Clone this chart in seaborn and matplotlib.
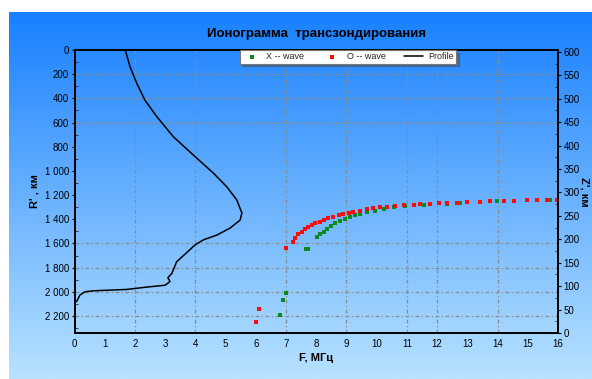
import numpy as np
import matplotlib
matplotlib.use("Agg")
import matplotlib.pyplot as plt
import seaborn as sns
import pandas as pd
from matplotlib.ticker import FuncFormatter, MultipleLocator

# ---- data ----
profile_f = [1.68, 1.84, 2.06, 2.33, 2.72, 3.27, 3.93, 4.60, 5.04, 5.37, 5.54, 5.48,
             5.15, 4.71, 4.27, 3.99, 3.72, 3.38, 3.22, 3.09, 3.16, 3.00, 2.39, 1.73,
             0.62, 0.35, 0.18, 0.07]
profile_z = [604, 568, 533, 497, 462, 419, 380, 341, 312, 284, 256, 241,
             224, 209, 199, 188, 172, 152, 127, 118, 110, 102, 98, 93,
             90, 88, 81, 67]

o_f = [6.00, 6.11, 7.00, 7.22, 7.30, 7.41, 7.52, 7.63, 7.74, 7.85, 7.96, 8.11, 8.24,
       8.40, 8.57, 8.74, 8.90, 9.07, 9.23, 9.45, 9.68, 9.89, 10.12, 10.34, 10.61,
       10.89, 11.22, 11.44, 11.77, 12.05, 12.32, 12.66, 12.99, 13.43, 13.76, 14.20,
       14.53, 14.97, 15.30, 15.64, 15.97]
o_r = [2247, 2142, 1635, 1585, 1557, 1524, 1503, 1480, 1461, 1445, 1433, 1420, 1406,
       1392, 1379, 1367, 1356, 1345, 1337, 1329, 1317, 1309, 1301, 1296, 1290,
       1284, 1279, 1276, 1271, 1268, 1265, 1263, 1257, 1255, 1251, 1249,
       1246, 1243, 1243, 1241, 1238]

x_f = [6.80, 6.91, 6.99, 7.66, 7.72, 8.02, 8.13, 8.24, 8.35, 8.48, 8.63, 8.79, 8.96,
       9.12, 9.29, 9.45, 9.68, 9.95, 10.23, 10.56, 10.94, 11.55, 12.32, 12.76,
       13.98, 15.74]
x_r = [2192, 2068, 2013, 1646, 1646, 1549, 1524, 1503, 1480, 1456, 1433, 1414, 1398,
       1379, 1365, 1356, 1342, 1329, 1315, 1301, 1290, 1282, 1276, 1268,
       1249, 1241]

x_ticks = list(range(0, 17))
r_ticks = list(range(0, 2201, 200))
z_ticks = list(range(0, 601, 50))
grid_f = [2, 4, 7, 9, 11, 12, 14]
grid_r = [200, 400, 600, 1600, 1800, 2000, 2200]

title = "Ионограмма  трансзондирования"

# ---- figure ----
W, H = 592, 379
fig = plt.figure(figsize=(W / 100, H / 100), dpi=100)
sns.set_style("white")
plt.rcParams['font.family'] = ['Liberation Sans', 'DejaVu Sans']

# gradient background
bg = fig.add_axes([9 / W, 0, 1 - 9 / W, 1 - 12 / H], zorder=-10)
top = np.array([24, 128, 255]) / 255
bot = np.array([184, 226, 255]) / 255
t = np.linspace(0, 1, 256)[:, None]
grad = (top[None, :] * (1 - t) + bot[None, :] * t)[:, None, :]
bg.imshow(grad, aspect='auto', extent=[0, 1, 0, 1])
bg.set_axis_off()

ax = fig.add_axes([74.5 / W, 1 - 333 / H, (558 - 74.5) / W, (333 - 50) / H])
ax.patch.set_alpha(0)
ax2 = ax.twinx()
ax2.patch.set_alpha(0)

ax.set_xlim(0, 16)
ax.set_ylim(2341, 0)
ax2.set_ylim(0, 604)

for g in grid_f:
    ax.axvline(g, color='#8a8a8a', lw=0.9, ls=(0, (3, 2, 1, 2)), zorder=1)
for g in grid_r:
    ax.axhline(g, color='#8a8a8a', lw=0.9, ls=(0, (3, 2, 1, 2)), zorder=1)

dfx = pd.DataFrame({"F": x_f, "R": x_r})
dfo = pd.DataFrame({"F": o_f, "R": o_r})
dfp = pd.DataFrame({"F": profile_f, "Z": profile_z})

sns.scatterplot(data=dfx, x="F", y="R", ax=ax, color='#0a8a1a', marker='s', s=7,
                linewidth=0, label="X -- wave", zorder=4, legend=False)
sns.scatterplot(data=dfo, x="F", y="R", ax=ax, color='#ff0a0a', marker='s', s=9,
                linewidth=0, label="O -- wave", zorder=5, legend=False)
sns.lineplot(data=dfp, x="F", y="Z", ax=ax2, color='black', lw=1.1, sort=False,
             label="Profile", legend=False, zorder=3)

ax.set_xticks(x_ticks)
ax.set_yticks(r_ticks)
ax2.set_yticks(z_ticks)
ax.yaxis.set_major_formatter(FuncFormatter(lambda v, p: f"{int(v):,}".replace(",", " ")))
ax.xaxis.set_minor_locator(MultipleLocator(0.5))
ax.yaxis.set_minor_locator(MultipleLocator(100))
ax2.yaxis.set_minor_locator(MultipleLocator(25))

for a in (ax, ax2):
    a.tick_params(axis='both', which='major', labelsize=7, length=2.5, width=0.8,
                  direction='out', pad=1.5, colors='black')
    a.tick_params(axis='both', which='minor', length=2, width=0.6, direction='in')
    for s in a.spines.values():
        s.set_color('black')
        s.set_linewidth(1.4)
        s.set_visible(True)

ax.set_xlabel("F, МГц", fontsize=8, fontweight='bold', labelpad=3, color='black')
ax.set_ylabel("R' , км", fontsize=8, fontweight='bold', labelpad=4, color='black')
ax2.set_ylabel("Z', км", fontsize=8, fontweight='bold', rotation=270, labelpad=4,
               color='black')
ax2.yaxis.set_label_coords(1.065, 0.5)
ax.set_title(title, fontsize=9.5, fontweight='bold', pad=9, color='black')

h1, l1 = ax.get_legend_handles_labels()
h2, l2 = ax2.get_legend_handles_labels()
leg = ax2.legend(h1 + h2, l1 + l2, ncol=3, loc='upper center',
                 bbox_to_anchor=(0.565, 1.0), fontsize=6.5, frameon=True,
                 handlelength=2.2, handletextpad=0.5, columnspacing=2.0,
                 borderpad=0.25, borderaxespad=0.0, fancybox=False, shadow=True,
                 markerscale=1.0)
leg.get_frame().set_edgecolor('#777777')
leg.get_frame().set_linewidth(0.8)
leg.get_frame().set_facecolor('white')
leg.set_zorder(10)

fig.savefig("out.png", dpi=100)
